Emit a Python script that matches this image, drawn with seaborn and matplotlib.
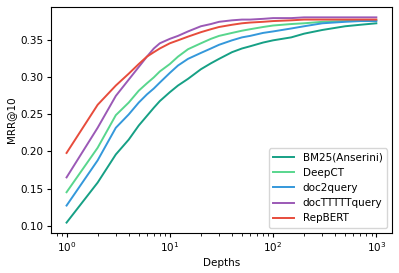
import numpy as np
import pandas as pd
import seaborn as sns
import matplotlib.pyplot as plt

depths = [1, 2, 3, 4, 5, 6, 7, 8, 10, 12, 15, 20, 25, 30, 40, 50, 60, 80,
          100, 150, 200, 300, 500, 700, 1000]

bm25 = [0.104, 0.158, 0.196, 0.216, 0.235, 0.248, 0.259, 0.268, 0.280, 0.289,
        0.298, 0.311, 0.319, 0.325, 0.334, 0.339, 0.342, 0.347, 0.350, 0.354,
        0.359, 0.364, 0.369, 0.371, 0.373]
deepct = [0.145, 0.205, 0.249, 0.266, 0.282, 0.292, 0.300, 0.308, 0.318, 0.328,
          0.338, 0.346, 0.352, 0.356, 0.360, 0.363, 0.365, 0.368, 0.370, 0.372,
          0.373, 0.375, 0.376, 0.377, 0.377]
doc2query = [0.127, 0.188, 0.232, 0.250, 0.266, 0.277, 0.285, 0.293, 0.306, 0.316,
             0.325, 0.333, 0.339, 0.344, 0.350, 0.354, 0.356, 0.360, 0.362, 0.366,
             0.369, 0.373, 0.375, 0.376, 0.376]
docttttt = [0.165, 0.232, 0.275, 0.297, 0.314, 0.328, 0.339, 0.346, 0.352, 0.356,
            0.362, 0.369, 0.372, 0.375, 0.377, 0.378, 0.378, 0.379, 0.380, 0.380,
            0.381, 0.381, 0.381, 0.381, 0.381]
repbert = [0.198, 0.263, 0.289, 0.305, 0.318, 0.328, 0.334, 0.339, 0.346, 0.350,
           0.355, 0.361, 0.365, 0.368, 0.371, 0.373, 0.374, 0.375, 0.376, 0.377,
           0.378, 0.378, 0.378, 0.378, 0.378]

names = ["BM25(Anserini)", "DeepCT", "doc2query", "docTTTTTquery", "RepBERT"]
colors = ["#16a085", "#58d68d", "#3498db", "#9b59b6", "#e74c3c"]

frames = []
for name, vals in zip(names, [bm25, deepct, doc2query, docttttt, repbert]):
    frames.append(pd.DataFrame({"Depths": depths, "MRR@10": vals, "model": name}))
df = pd.concat(frames, ignore_index=True)

plt.rcParams["font.size"] = 7.5
plt.rcParams["xtick.major.size"] = 3
plt.rcParams["ytick.major.size"] = 3
plt.rcParams["xtick.minor.size"] = 1.8
plt.rcParams["xtick.major.pad"] = 2.5
plt.rcParams["ytick.major.pad"] = 2.5
fig = plt.figure(figsize=(3.99, 2.73), dpi=100)
ax = fig.add_axes([0.128, 0.147, 0.854, 0.827])
sns.lineplot(data=df, x="Depths", y="MRR@10", hue="model", hue_order=names,
             palette=colors, linewidth=1.4, ax=ax)
ax.set_xscale("log")
ax.set_xlabel("Depths", labelpad=3)
ax.set_ylabel("MRR@10", labelpad=3)
ax.legend(loc="lower right", fontsize=7.5)
fig.savefig("out.png", dpi=100)
